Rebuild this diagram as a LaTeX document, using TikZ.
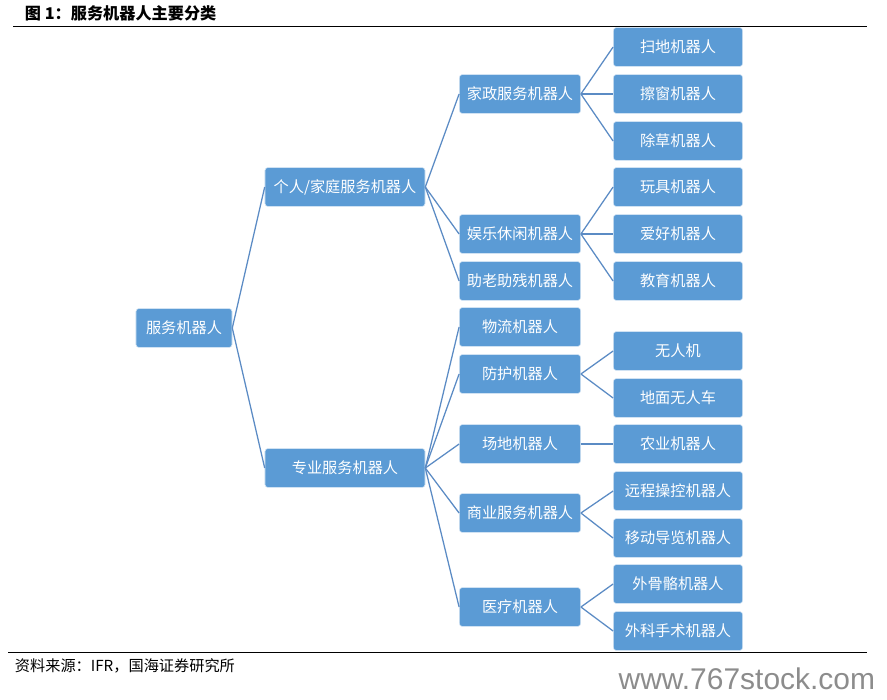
\documentclass[tikz,border=0pt]{standalone}
\usepackage{fontspec}
\usepackage{tikz}
\newfontfamily\cjk{Noto Sans CJK SC}
\newfontfamily\wmfont{Liberation Sans}
\definecolor{boxblue}{HTML}{5B9BD5}
\definecolor{linkblue}{HTML}{5B8BC4}
\colorlet{wmgray}{black!45}

\begin{document}
\begin{tikzpicture}[x=0.025cm,y=-0.025cm,
        box/.style={fill=boxblue,draw=white!75!boxblue,rounded corners=2pt,
            text=white,font=\cjk\fontsize{10.8}{12}\selectfont,
            minimum height=0.97cm,inner sep=0pt},
        lvzero/.style={box,minimum width=2.4cm},
        lvone/.style={box,minimum width=4cm},
        lvtwo/.style={box,minimum width=3.03cm},
        lvthree/.style={box,minimum width=3.23cm},
        link/.style={linkblue,line width=0.9pt}]
            \useasboundingbox (0,0) rectangle (887,699);

            % title and rules
            \node[anchor=west,font=\cjk\bfseries\fontsize{11.5}{13}\selectfont] (title) at (20,13) {图 1：服务机器人主要分类};
            \draw [line width=0.8pt] (13,26.5) -- (867,26.5);
            \draw [line width=0.8pt] (8,652.5) -- (867,652.5);
            \node[anchor=west,font=\cjk\fontsize{10.8}{12}\selectfont] (src) at (10,666) {资料来源：IFR，国海证券研究所};
            \node[anchor=east,text=wmgray,font=\wmfont\fontsize{21.3}{25}\selectfont] (wm) at (880,679) {www.767stock.com};

            % tree
            \node[lvzero] (root) at (184,328) {服务机器人};
            \node[lvone] (home) at (345,187) {个人/家庭服务机器人};
            \node[lvone] (pro) at (345,468) {专业服务机器人};

            \node[lvtwo] (dom) at (520,94) {家政服务机器人};
            \node[lvtwo] (fun) at (520,234) {娱乐休闲机器人};
            \node[lvtwo] (aid) at (520,281) {助老助残机器人};
            \node[lvtwo] (log) at (520,327) {物流机器人};
            \node[lvtwo] (def) at (520,374) {防护机器人};
            \node[lvtwo] (fld) at (520,444) {场地机器人};
            \node[lvtwo] (biz) at (520,513) {商业服务机器人};
            \node[lvtwo] (med) at (520,607) {医疗机器人};

            \node[lvthree] (sweep) at (678,47) {扫地机器人};
            \node[lvthree] (win) at (678,94) {擦窗机器人};
            \node[lvthree] (mow) at (678,141) {除草机器人};
            \node[lvthree] (toy) at (678,187) {玩具机器人};
            \node[lvthree] (hob) at (678,234) {爱好机器人};
            \node[lvthree] (edu) at (678,281) {教育机器人};
            \node[lvthree] (uav) at (678,351) {无人机};
            \node[lvthree] (ugv) at (678,398) {地面无人车};
            \node[lvthree] (agr) at (678,444) {农业机器人};
            \node[lvthree] (tele) at (678,491) {远程操控机器人};
            \node[lvthree] (guide) at (678,538) {移动导览机器人};
            \node[lvthree] (exo) at (678,584) {外骨骼机器人};
            \node[lvthree] (surg) at (678,631) {外科手术机器人};

            \foreach \a/\b in {root/home,root/pro,home/dom,home/fun,home/aid,
                    pro/log,pro/def,pro/fld,pro/biz,pro/med,
                    dom/sweep,dom/win,dom/mow,fun/toy,fun/hob,fun/edu,
                    def/uav,def/ugv,fld/agr,biz/tele,biz/guide,med/exo,med/surg} {
                \draw [link] (\a.east) -- (\b.west);
            }
        \end{tikzpicture}
\end{document}
